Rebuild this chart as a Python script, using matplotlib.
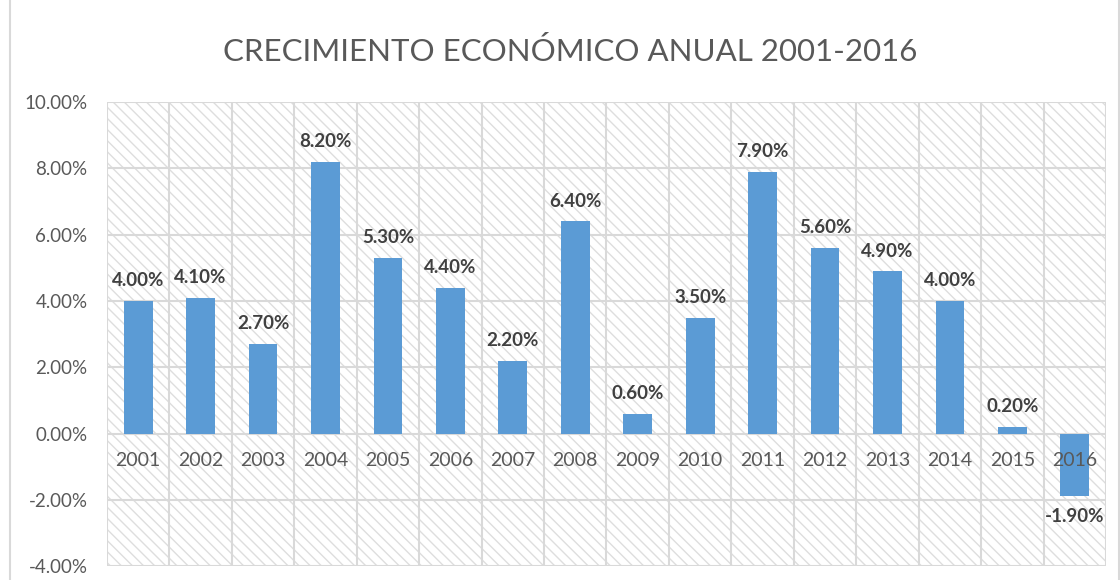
import numpy as np
import matplotlib
matplotlib.use("Agg")
from matplotlib import pyplot as plt
from matplotlib.patches import Rectangle

years = ["2001", "2002", "2003", "2004", "2005", "2006", "2007", "2008",
         "2009", "2010", "2011", "2012", "2013", "2014", "2015", "2016"]
growth = [4.0, 4.1, 2.7, 8.2, 5.3, 4.4, 2.2, 6.4, 0.6, 3.5, 7.9, 5.6, 4.9, 4.0, 0.2, -1.9]

plt.rcParams["font.family"] = ["Lato", "DejaVu Sans"]
plt.rcParams["hatch.linewidth"] = 1.0
plt.rcParams["hatch.color"] = "#dedede"

fig = plt.figure(figsize=(11.2, 5.8), dpi=100)
ax = fig.add_axes([0.0955, 0.024, 0.892, 0.800])

x = np.arange(len(years))
ax.set_xlim(-0.5, len(years) - 0.5)
ax.set_ylim(-4, 10)

# hatched background
bg = Rectangle((0, 0), 1, 1, transform=ax.transAxes, facecolor="white",
               edgecolor="#dedede", hatch="\\\\\\", linewidth=0, zorder=0)
ax.add_patch(bg)

# grid
for gx in np.arange(-0.5, len(years), 1.0):
    ax.axvline(gx, color="#d9d9d9", lw=1.5, zorder=1)
for gy in np.arange(-4, 11, 2):
    ax.axhline(gy, color="#d9d9d9", lw=1.5, zorder=1)

ax.bar(x, growth, width=0.46, color="#5b9bd5", zorder=2)

for xi, v in zip(x, growth):
    if v >= 0:
        ax.text(xi, v + 0.35, f"{v:.2f}%", ha="center", va="bottom",
                fontsize=13.5, fontweight="bold", color="#404040", zorder=3)
    else:
        ax.text(xi, v - 0.35, f"{v:.2f}%", ha="center", va="top",
                fontsize=13.5, fontweight="bold", color="#404040", zorder=3)
    ax.text(xi, -0.55, years[xi], ha="center", va="top", fontsize=14,
            color="#595959", zorder=3)

ax.set_xticks([])
ax.set_yticks(np.arange(-4, 11, 2))
ax.set_yticklabels([f"{t:.2f}%" for t in np.arange(-4, 11, 2)])
ax.tick_params(axis="y", length=0, labelsize=13.5, labelcolor="#595959", pad=14)
for s in ax.spines.values():
    s.set_visible(False)

fig.text(0.509, 0.912, "CRECIMIENTO ECONÓMICO ANUAL 2001-2016", ha="center",
         va="center", fontsize=22.5, color="#595959")

fig.patches.append(Rectangle((0.009, -0.01), 0.99, 1.02, transform=fig.transFigure,
                             fill=False, edgecolor="#d9d9d9", lw=1.5))

fig.savefig("out.png", dpi=100)
